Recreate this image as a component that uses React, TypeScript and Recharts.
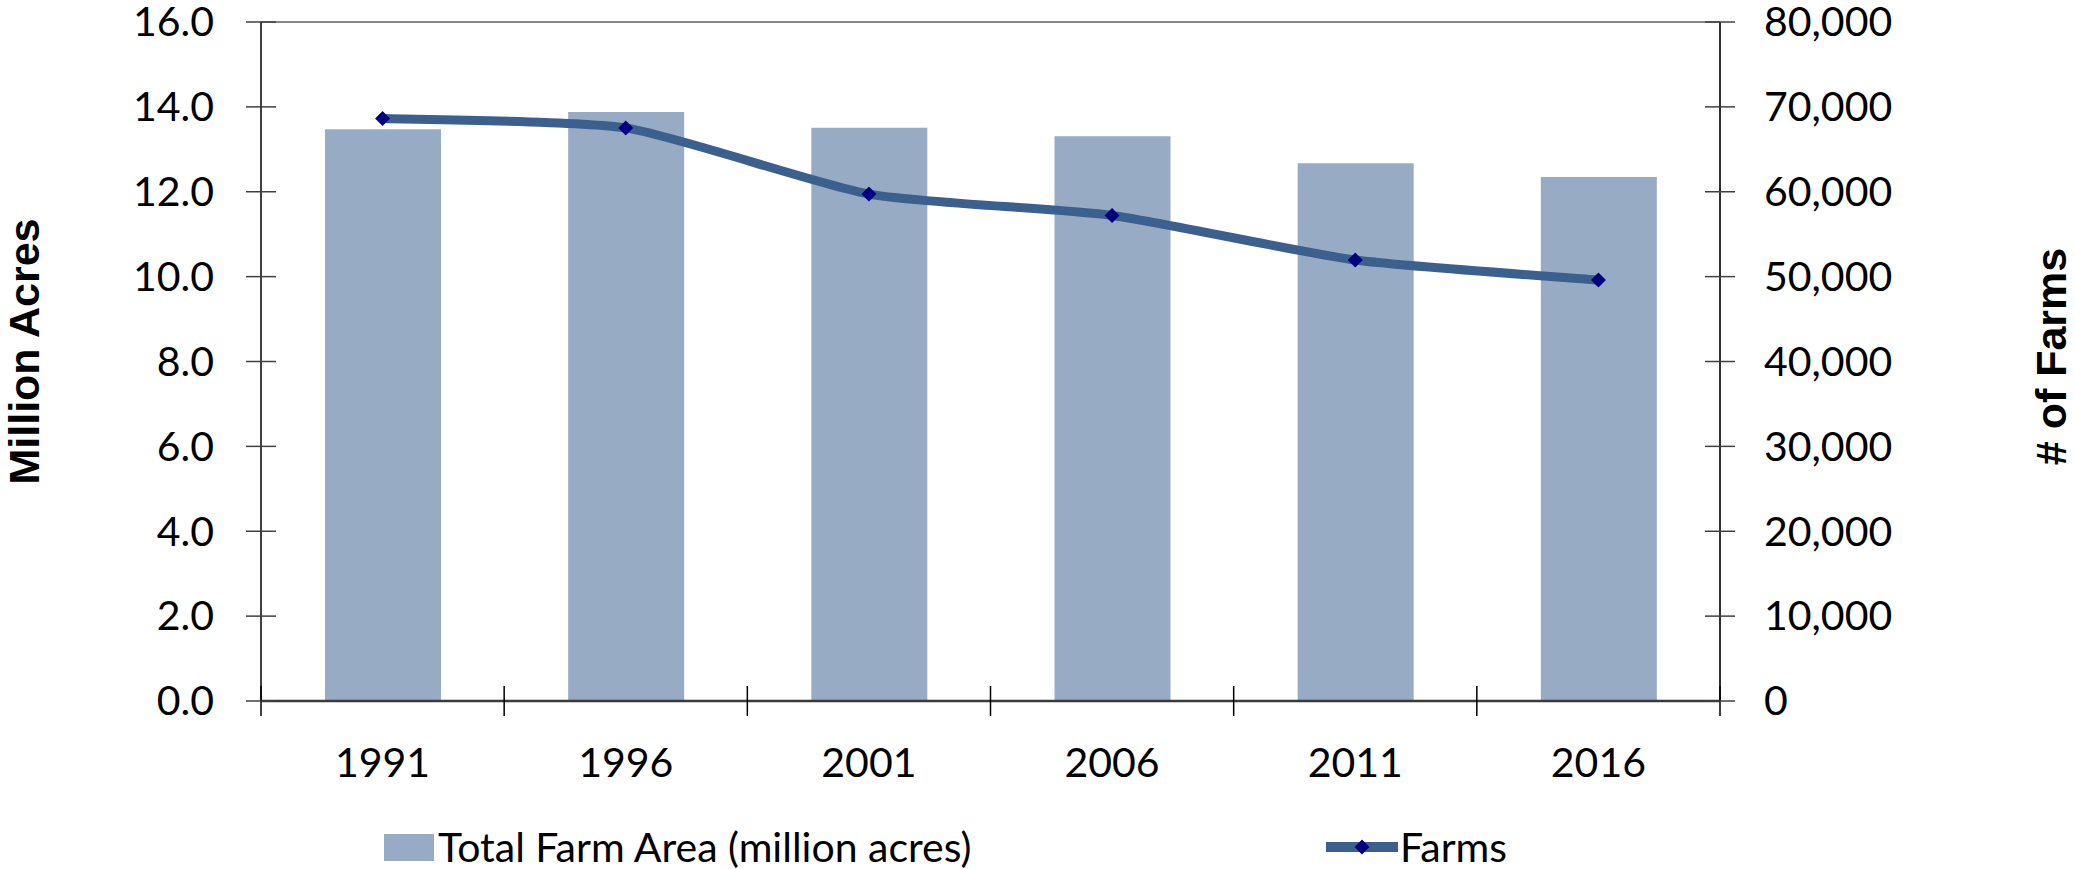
import React from 'react';
import { ComposedChart, Bar, Line, XAxis, YAxis, Legend, ReferenceLine } from 'recharts';

const years = ['1991', '1996', '2001', '2006', '2011', '2016'];
const farmAreaMillionAcres = [13.47, 13.88, 13.51, 13.31, 12.67, 12.35];
const farmCounts = [68633, 67520, 59728, 57211, 51950, 49600];
const leftTicks = [0, 2, 4, 6, 8, 10, 12, 14, 16];
const rightTicks = [0, 10000, 20000, 30000, 40000, 50000, 60000, 70000, 80000];

const data = years.map((y, i) => ({ year: y, area: farmAreaMillionAcres[i], farms: farmCounts[i] }));

const FONT = 'Lato';
const BAR = '#98ABC5';
const LINE = '#3B608E';
const DOT = '#000080';
const FS = 41;
const SMOOTH = 1 / 10;

// Lightly smoothed line (Catmull-Rom style Bezier with reduced tension)
const excelSmooth = (context: any) => {
  let xs: number[] = [];
  let ys: number[] = [];
  return {
    areaStart() {},
    areaEnd() {},
    lineStart() {
      xs = [];
      ys = [];
    },
    point(x: number, y: number) {
      xs.push(+x);
      ys.push(+y);
    },
    lineEnd() {
      const n = xs.length;
      if (!n) return;
      context.moveTo(xs[0], ys[0]);
      for (let i = 0; i < n - 1; i++) {
        const i0 = Math.max(i - 1, 0);
        const i3 = Math.min(i + 2, n - 1);
        const c1x = xs[i] + (xs[i + 1] - xs[i0]) * SMOOTH;
        const c1y = ys[i] + (ys[i + 1] - ys[i0]) * SMOOTH;
        const c2x = xs[i + 1] - (xs[i3] - xs[i]) * SMOOTH;
        const c2y = ys[i + 1] - (ys[i3] - ys[i]) * SMOOTH;
        context.bezierCurveTo(c1x, c1y, c2x, c2y, xs[i + 1], ys[i + 1]);
      }
    },
  };
};

const LeftTick = (props: any) => {
  const { x, y, payload } = props;
  return (
    <g>
      <line x1={x - 15} x2={x + 15} y1={y} y2={y} stroke="#404040" strokeWidth={1.5} />
      <text x={x - 47} y={y} dy="0.35em" textAnchor="end" fontFamily={FONT} fontSize={FS} fill="#000">
        {Number(payload.value).toFixed(1)}
      </text>
    </g>
  );
};

const RightTick = (props: any) => {
  const { x, y, payload } = props;
  return (
    <g>
      <line x1={x - 15} x2={x + 15} y1={y} y2={y} stroke="#404040" strokeWidth={1.5} />
      <text x={x + 44} y={y} dy="0.35em" textAnchor="start" fontFamily={FONT} fontSize={FS} fill="#000">
        {Number(payload.value).toLocaleString('en-US')}
      </text>
    </g>
  );
};

const XTick = (props: any) => {
  const { x, y, payload, index, width } = props;
  const half = payload && payload.offset ? payload.offset : width / (2 * years.length);
  const last = index === years.length - 1;
  return (
    <g>
      <line x1={x - half} x2={x - half} y1={y - 15} y2={y + 15} stroke="#000" strokeWidth={1.5} />
      {last ? <line x1={x + half} x2={x + half} y1={y - 15} y2={y + 15} stroke="#000" strokeWidth={1.5} /> : null}
      <text x={x} y={y + 62} dy="0.35em" textAnchor="middle" fontFamily={FONT} fontSize={FS} fill="#000">
        {payload.value}
      </text>
    </g>
  );
};

const AxisTitle = (props: any) => {
  const { viewBox, text, dxFromLeft, dyCenter } = props;
  if (!viewBox) return null;
  const cx = viewBox.x + dxFromLeft;
  const cy = viewBox.y + viewBox.height / 2 + (dyCenter || 0);
  return (
    <text
      x={cx}
      y={cy}
      transform={`rotate(-90, ${cx}, ${cy})`}
      textAnchor="middle"
      dominantBaseline="central"
      fontFamily="Liberation Sans"
      fontWeight="bold"
      fontSize={43}
      fill="#000"
    >
      {text}
    </text>
  );
};

const Diamond = (props: any) => {
  const { cx, cy } = props;
  if (cx == null || cy == null) return null;
  const r = 7.5;
  return <polygon points={`${cx},${cy - r} ${cx + r},${cy} ${cx},${cy + r} ${cx - r},${cy}`} fill={DOT} />;
};

const LegendContent = () => (
  <div style={{ position: 'relative', width: 2075, height: 44, fontFamily: FONT, fontSize: FS, color: '#000' }}>
    <div style={{ position: 'absolute', left: 384, top: 9, width: 50, height: 27, background: BAR }} />
    <span style={{ position: 'absolute', left: 438, top: 0, lineHeight: '44px', whiteSpace: 'nowrap' }}>
      Total Farm Area (million acres)
    </span>
    <svg style={{ position: 'absolute', left: 1326, top: 0 }} width={72} height={44}>
      <line x1={0} y1={22} x2={72} y2={22} stroke={LINE} strokeWidth={10} />
      <polygon points="36,14.5 43.5,22 36,29.5 28.5,22" fill={DOT} />
    </svg>
    <span style={{ position: 'absolute', left: 1400, top: 0, lineHeight: '44px', whiteSpace: 'nowrap' }}>Farms</span>
  </div>
);

export default function App() {
  return (
    <div style={{ position: 'absolute', left: 0, top: 0, width: 2075, height: 869, background: '#fff' }}>
      <ComposedChart width={2075} height={869} data={data} margin={{ top: 22, right: 0, bottom: 0, left: 0 }}>
        <XAxis
          dataKey="year"
          xAxisId="x"
          height={124}
          tickSize={0}
          tickMargin={0}
          tickLine={false}
          axisLine={{ stroke: '#3a3a3a', strokeWidth: 2.5 }}
          tick={<XTick />}
          interval={0}
        />
        <YAxis
          yAxisId="left"
          orientation="left"
          width={261}
          domain={[0, 16]}
          ticks={leftTicks}
          tickSize={0}
          tickMargin={0}
          tickLine={false}
          axisLine={{ stroke: '#000', strokeWidth: 1.5 }}
          tick={<LeftTick />}
          interval={0}
          label={<AxisTitle text="Million Acres" dxFromLeft={24} dyCenter={-10} />}
        />
        <YAxis
          yAxisId="right"
          orientation="right"
          width={355}
          domain={[0, 80000]}
          ticks={rightTicks}
          tickSize={0}
          tickMargin={0}
          tickLine={false}
          axisLine={{ stroke: '#303030', strokeWidth: 2 }}
          tick={<RightTick />}
          interval={0}
          label={<AxisTitle text="# of Farms" dxFromLeft={331} dyCenter={-5} />}
        />
        <ReferenceLine yAxisId="left" xAxisId="x" y={16} stroke="#868686" strokeWidth={2} />
        <Bar
          dataKey="area"
          xAxisId="x"
          yAxisId="left"
          fill={BAR}
          barSize={116}
          isAnimationActive={false}
          name="Total Farm Area (million acres)"
        />
        <Line
          dataKey="farms"
          xAxisId="x"
          yAxisId="right"
          type={excelSmooth as any}
          stroke={LINE}
          strokeWidth={9}
          dot={<Diamond />}
          activeDot={false}
          isAnimationActive={false}
          name="Farms"
        />
        <Legend verticalAlign="bottom" content={<LegendContent />} wrapperStyle={{ left: 0, bottom: 0 }} />
      </ComposedChart>
    </div>
  );
}
